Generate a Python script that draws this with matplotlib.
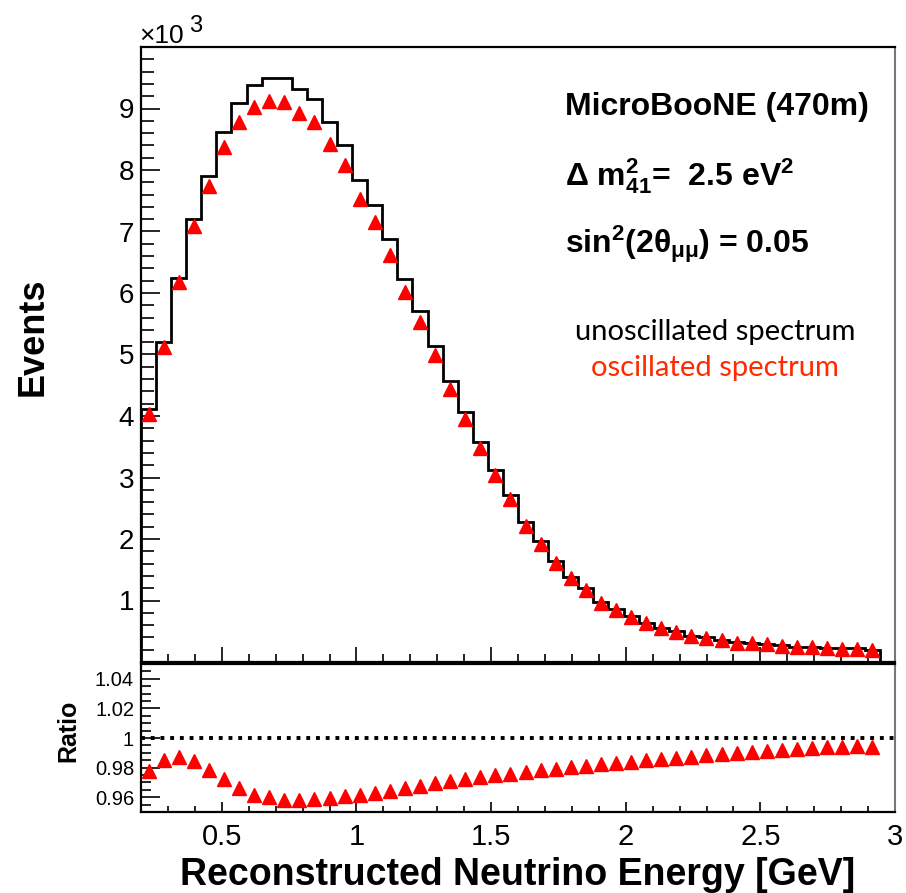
import matplotlib
matplotlib.use("Agg")
import matplotlib.pyplot as plt
from matplotlib.ticker import MultipleLocator, FixedLocator
import numpy as np

plt.rcParams['font.family'] = ['Liberation Sans', 'DejaVu Sans']
plt.rcParams['mathtext.fontset'] = 'custom'
plt.rcParams['mathtext.rm'] = 'Liberation Sans:bold'
plt.rcParams['mathtext.it'] = 'Liberation Sans:bold'
plt.rcParams['mathtext.bf'] = 'Liberation Sans:bold'

# donnees : 49 bins de 0.056 GeV a partir de 0.2 GeV
edges = np.linspace(0.2, 2.944, 50)
unosc = [4120, 5200, 6250, 7200, 7910, 8620, 9090, 9390, 9500, 9500,
         9320, 9150, 8780, 8410, 7830, 7430, 6870, 6230, 5710, 5140,
         4575, 4070, 3575, 3117, 2720, 2270, 1966, 1640, 1390, 1200,
         980, 860, 740, 640, 560, 500, 430, 400, 360, 320,
         310, 290, 270, 250, 240, 230, 220, 220, 200]
ratio = [0.978, 0.985, 0.9875, 0.9846, 0.9784, 0.9723, 0.9661, 0.9618, 0.960, 0.9584,
         0.9582, 0.959, 0.9595, 0.9607, 0.9618, 0.9629, 0.9643, 0.9664, 0.9679, 0.9698,
         0.9709, 0.972, 0.9736, 0.9747, 0.9759, 0.977, 0.9782, 0.9793, 0.9804, 0.9811,
         0.9823, 0.9829, 0.9838, 0.985, 0.9861, 0.9868, 0.9872, 0.9884, 0.989, 0.9898,
         0.9907, 0.9909, 0.9918, 0.9923, 0.993, 0.9936, 0.9936, 0.9945, 0.9939]
xticks = [0.5, 1, 1.5, 2, 2.5, 3]
xticklabels = ['0.5', '1', '1.5', '2', '2.5', '3']
rticks = [0.96, 0.98, 1.0, 1.02, 1.04]
rticklabels = ['0.96', '0.98', '1', '1.02', '1.04']

centres = 0.5 * (edges[:-1] + edges[1:])
osc = np.array(unosc) * np.array(ratio)

W, H = 906, 893
fig = plt.figure(figsize=(W / 100, H / 100), dpi=100)
ax = fig.add_axes([141 / W, 1 - 662 / H, 754 / W, 615 / H])
ax2 = fig.add_axes([141 / W, 1 - 812 / H, 754 / W, 148 / H])

# panneau principal
ax.stairs(unosc, edges, baseline=0, color='black', lw=2.0, zorder=2)
ax.plot(centres, osc, ls='none', marker='^', ms=10.5, color='red', mec='red', zorder=3)
ax.set_xlim(0.2, 3.0)
ax.set_ylim(0, 10000)
ax.xaxis.set_major_locator(MultipleLocator(0.5))
ax.xaxis.set_minor_locator(MultipleLocator(0.1))
ax.yaxis.set_major_locator(FixedLocator([1000 * i for i in range(1, 10)]))
ax.yaxis.set_minor_locator(MultipleLocator(200))
ax.set_yticklabels([str(i) for i in range(1, 10)])
ax.tick_params(axis='x', which='both', direction='in', labelbottom=False, width=1.2)
ax.tick_params(axis='x', which='major', length=11)
ax.tick_params(axis='x', which='minor', length=6)
ax.tick_params(axis='y', which='both', direction='in', labelsize=20, pad=5, width=1.2)
ax.tick_params(axis='y', which='major', length=14)
ax.tick_params(axis='y', which='minor', length=9)

# panneau ratio
ax2.axhline(1.0, color='black', lw=2.8, ls=(0, (1, 1.5)), dash_capstyle='butt', zorder=2)
ax2.plot(centres, ratio, ls='none', marker='^', ms=10.5, color='red', mec='red', zorder=3)
ax2.set_xlim(0.2, 3.0)
ax2.set_ylim(0.95, 1.05)
ax2.set_xticks(xticks)
ax2.set_xticklabels(xticklabels)
ax2.xaxis.set_minor_locator(MultipleLocator(0.1))
ax2.set_yticks(rticks)
ax2.set_yticklabels(rticklabels)
ax2.yaxis.set_minor_locator(MultipleLocator(0.005))
ax2.tick_params(axis='x', which='both', direction='in', labelsize=21, pad=8, width=1.2)
ax2.tick_params(axis='x', which='major', length=7)
ax2.tick_params(axis='x', which='minor', length=4)
ax2.tick_params(axis='y', which='both', direction='in', labelsize=14.5, pad=5, width=1.2)
ax2.tick_params(axis='y', which='major', length=14)
ax2.tick_params(axis='y', which='minor', length=7)

for a in (ax, ax2):
    for s in ('left', 'bottom', 'top'):
        a.spines[s].set_linewidth(1.6)
        a.spines[s].set_color('black')
    a.spines['right'].set_color('#777777')
    a.spines['right'].set_linewidth(1.5)

# textes
fig.text(33 / W, 1 - 337 / H, 'Events', rotation=90, ha='center', va='center',
         fontsize=26, fontweight='bold')
fig.text(68 / W, 1 - 731 / H, 'Ratio', rotation=90, ha='center', va='center',
         fontsize=18, fontweight='bold')
fig.text(518 / W, 1 - 885 / H, 'Reconstructed Neutrino Energy [GeV]', ha='center', va='baseline',
         fontsize=27, fontweight='bold')
fig.text(139 / W, 1 - 43 / H, '\u00d710', ha='left', va='baseline', fontsize=19)
fig.text(189 / W, 1 - 32 / H, '3', ha='left', va='baseline', fontsize=17)

fig.text(565 / W, 1 - 115 / H, 'MicroBooNE (470m)', ha='left', va='baseline',
         fontsize=23, fontweight='bold')
fig.text(565 / W, 1 - 185 / H, r'$\Delta$ $\mathrm{m}^{2}_{41}$=  2.5 eV$^{2}$', ha='left',
         va='baseline', fontsize=23, fontweight='bold')
fig.text(565 / W, 1 - 253 / H, r'sin$^{2}$(2$\theta_{\mu\mu}$) = 0.05', ha='left',
         va='baseline', fontsize=23, fontweight='bold')
fig.text(715 / W, 1 - 340 / H, 'unoscillated spectrum', ha='center', va='baseline',
         fontsize=21, family=['Lato', 'DejaVu Sans'], color='black')
fig.text(715 / W, 1 - 376 / H, 'oscillated spectrum', ha='center', va='baseline',
         fontsize=21, family=['Lato', 'DejaVu Sans'], color='#ff2a00')

fig.savefig('out.png', dpi=100)
